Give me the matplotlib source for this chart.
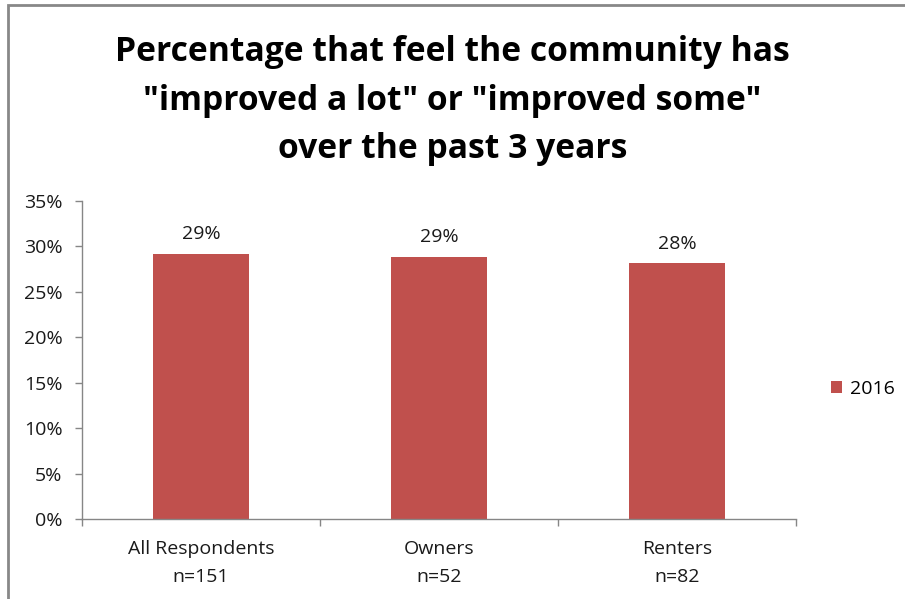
import matplotlib
matplotlib.use("Agg")
import matplotlib.pyplot as plt
from matplotlib.patches import Rectangle
from matplotlib.ticker import PercentFormatter

categories = ["All Respondents\nn=151", "Owners\nn=52", "Renters\nn=82"]
values_2016 = [29.1, 28.8, 28.1]
series_name = "2016"
title = 'Percentage that feel the community has\n"improved a lot" or "improved some"\nover the past 3 years'

bar_color = "#C0504D"
axis_color = "#868686"
font = "Open Sans"

plt.rcParams["font.family"] = font

fig = plt.figure(figsize=(9.05, 5.99), dpi=100)

# chart frame
fig.patches.append(Rectangle((0.009, -0.05), 1.1, 1.042, transform=fig.transFigure,
                             fill=False, edgecolor="#888888", linewidth=2))

ax = fig.add_axes([0.0906, 0.133, 0.789, 0.532])
x = range(len(categories))
bars = ax.bar(x, values_2016, width=0.4, color=bar_color, label=series_name)

for b, v in zip(bars, values_2016):
    ax.text(b.get_x() + b.get_width() / 2, v + 1.2, f"{round(v):d}%",
            ha="center", va="bottom", fontsize=14, color="#1a1a1a")

ax.set_ylim(0, 35)
ax.set_yticks(range(0, 36, 5))
ax.yaxis.set_major_formatter(PercentFormatter(decimals=0))
ax.set_xlim(-0.5, len(categories) - 0.5)
ax.set_xticks([i - 0.5 for i in range(len(categories) + 1)], minor=False)
ax.set_xticklabels([])
ax.set_xticks(list(x), minor=True)
ax.set_xticklabels(categories, minor=True, fontsize=14, color="#1a1a1a", linespacing=1.7)
ax.tick_params(axis="x", which="minor", length=0, pad=15)
ax.tick_params(axis="x", which="major", length=5, color=axis_color, width=1)
ax.tick_params(axis="y", length=5, color=axis_color, width=1, labelsize=14,
               labelcolor="#1a1a1a", pad=9)

for side in ["top", "right"]:
    ax.spines[side].set_visible(False)
for side in ["left", "bottom"]:
    ax.spines[side].set_color(axis_color)
    ax.spines[side].set_linewidth(1)

fig.text(0.5, 0.832, title, ha="center", va="center", fontsize=24.2, fontweight="bold",
         linespacing=1.56, color="#000000")

ax.legend(loc="center left", bbox_to_anchor=(1.024, 0.41), frameon=False, fontsize=14,
          handlelength=0.6, handleheight=0.6, handletextpad=0.4)

fig.savefig("out.png", dpi=100)
